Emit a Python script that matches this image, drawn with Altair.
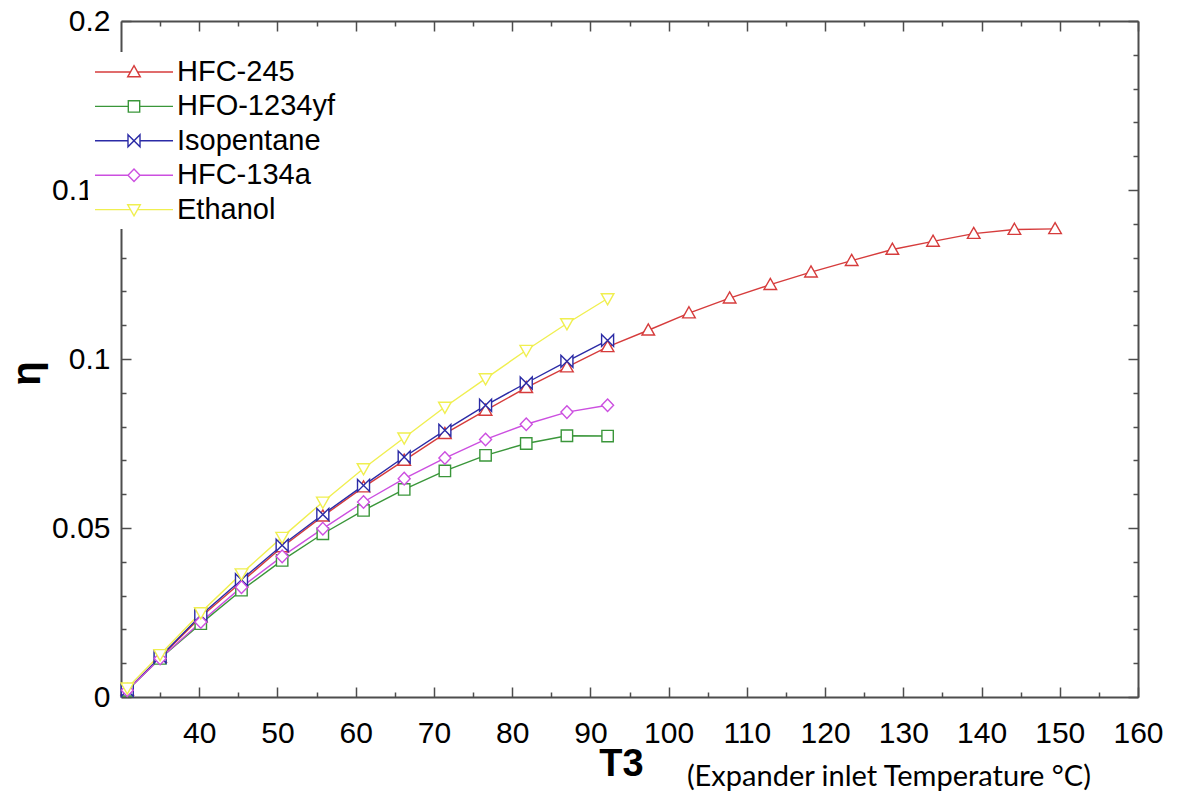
import altair as alt
import pandas as pd

# ---------------- data ----------------
names = ["HFC-245", "HFO-1234yf", "Isopentane", "HFC-134a", "Ethanol"]
colors = ["#d63c3c", "#3a963a", "#2b2ba6", "#cc4fe0", "#f0ef50"]

T_common = [30.8, 35.0, 40.2, 45.4, 50.6, 55.8, 61.0, 66.2, 71.4, 76.6, 81.8, 87.0, 92.2]
T_hfc245 = T_common + [97.4, 102.6, 107.8, 113.0, 118.2, 123.4, 128.6, 133.8, 139.0, 144.2, 149.4]

eta_hfc245 = [0.0020, 0.0117, 0.0237, 0.0340, 0.0444, 0.0535, 0.0621, 0.0700, 0.0779,
              0.0848, 0.0915, 0.0976, 0.1036, 0.1085, 0.1136, 0.1180, 0.1220, 0.1257,
              0.1291, 0.1324, 0.1348, 0.1371, 0.1383, 0.1385]
eta_hfo1234yf = [0.0020, 0.0114, 0.0217, 0.0316, 0.0404, 0.0483, 0.0552, 0.0614, 0.0669,
                 0.0715, 0.0750, 0.0773, 0.0772]
eta_isopentane = [0.0020, 0.0118, 0.0242, 0.0347, 0.0449, 0.0540, 0.0626, 0.0710, 0.0789,
                  0.0863, 0.0929, 0.0993, 0.1055]
eta_hfc134a = [0.0020, 0.0114, 0.0222, 0.0325, 0.0416, 0.0498, 0.0577, 0.0646, 0.0707,
               0.0762, 0.0807, 0.0843, 0.0863]
eta_ethanol = [0.0027, 0.0126, 0.0250, 0.0365, 0.0473, 0.0577, 0.0676, 0.0767, 0.0858,
               0.0942, 0.1026, 0.1105, 0.1179]

x_major = [40, 50, 60, 70, 80, 90, 100, 110, 120, 130, 140, 150, 160]
x_minor = [35, 45, 55, 65, 75, 85, 95, 105, 115, 125, 135, 145, 155]
y_major = [0, 0.05, 0.1, 0.15, 0.2]
y_minor = [0.01, 0.02, 0.03, 0.04, 0.06, 0.07, 0.08, 0.09, 0.11, 0.12, 0.13, 0.14,
           0.16, 0.17, 0.18, 0.19]

note = "(Expander inlet Temperature °C)"

series = [
    (names[0], T_hfc245, eta_hfc245),
    (names[1], T_common, eta_hfo1234yf),
    (names[2], T_common, eta_isopentane),
    (names[3], T_common, eta_hfc134a),
    (names[4], T_common, eta_ethanol),
]
rows = []
for name, ts, es in series:
    for t, e in zip(ts, es):
        rows.append({"series": name, "T": t, "eta": e})
df = pd.DataFrame(rows)

# ---------------- styling ----------------
W, H = 1017, 676
FRAME = "#4d4d4d"
FONT = "Liberation Sans"

# marker shapes on the plot (unit = sqrt(size)/2)
chart_shapes = [
    "M0,-1.05L1.05,0.8L-1.05,0.8Z",          # triangle up
    "M-0.95,-0.95H0.95V0.95H-0.95Z",          # square
    "M-1,-1L1,1V-1L-1,1Z",                    # bowtie
    "M0,-1.05L1,0L0,1.05L-1,0Z",              # diamond
    "M0,1.05L1.05,-0.8L-1.05,-0.8Z",          # triangle down
]
# legend symbols: a line segment with the marker in the middle
legend_shapes = [
    "M-2.6,0H-0.24M0.24,0H2.6M0,-0.42L0.42,0.32L-0.42,0.32Z",
    "M-2.6,0H-0.38M0.38,0H2.6M-0.38,-0.38H0.38V0.38H-0.38Z",
    "M-2.6,0H-0.4M0.4,0H2.6M-0.4,-0.4L0.4,0.4V-0.4L-0.4,0.4Z",
    "M-2.6,0H-0.4M0.4,0H2.6M0,-0.42L0.4,0L0,0.42L-0.4,0Z",
    "M-2.6,0H-0.24M0.24,0H2.6M0,0.42L0.42,-0.32L-0.42,-0.32Z",
]

x_scale = alt.Scale(domain=[30, 160], nice=False, zero=False)
y_scale = alt.Scale(domain=[0, 0.2], nice=False, zero=False)

base = alt.Chart(df)

lines = base.mark_line(strokeWidth=1.4).encode(
    x=alt.X("T:Q", scale=x_scale, axis=alt.Axis(
        orient="bottom", values=x_major, ticks=False, tickSize=0, domain=True,
        domainColor=FRAME, domainWidth=2, grid=False,
        labelFont=FONT, labelFontSize=30, labelColor="black", labelPadding=21,
        labelFlush=False, labelOverlap=False,
        title="T3", titleFont=FONT, titleFontSize=38, titleFontWeight="bold",
        titleColor="black", titleX=500, titleY=78, titleAlign="center",
        titleBaseline="alphabetic")),
    y=alt.Y("eta:Q", scale=y_scale, axis=alt.Axis(
        orient="left", values=y_major, format="~g", ticks=False, tickSize=0,
        domain=True, domainColor=FRAME, domainWidth=2, grid=False,
        labelFont=FONT, labelFontSize=30, labelColor="black", labelPadding=11,
        labelFlush=False, labelOverlap=False, labelBaseline="middle",
        title="η", titleFont=FONT, titleFontSize=40, titleFontWeight="bold",
        titleColor="black", titleX=-94, titleY=352, titleAngle=270,
        titleAlign="center", titleBaseline="middle")),
    color=alt.Color("series:N", scale=alt.Scale(domain=names, range=colors), legend=None),
)

points = base.mark_point(filled=False, fill="white", size=144, strokeWidth=1.4, opacity=1).encode(
    x=alt.X("T:Q", scale=x_scale, axis=None),
    y=alt.Y("eta:Q", scale=y_scale, axis=None),
    color=alt.Color("series:N", scale=alt.Scale(domain=names, range=colors), legend=None),
    shape=alt.Shape("series:N", scale=alt.Scale(domain=names, range=chart_shapes), legend=None),
)

legend_cfg = dict(
    orient="none", legendX=-33, legendY=31, title=None,
    fillColor="white", padding=4, symbolSize=900,
    symbolStrokeWidth=1.4, symbolOffset=26, labelOffset=27,
    symbolFillColor="white", rowPadding=3.4,
    labelFont=FONT, labelFontSize=29, labelColor="black",
    labelLimit=400, zindex=2,
)

legend_layer = base.transform_filter("datum.T < 0").mark_point(
    filled=False, fill="white", size=900, strokeWidth=1.4, opacity=1
).encode(
    x=alt.X("T:Q", scale=x_scale, axis=None),
    y=alt.Y("eta:Q", scale=y_scale, axis=None),
    color=alt.Color("series:N", scale=alt.Scale(domain=names, range=colors),
                    legend=alt.Legend(**legend_cfg)),
    shape=alt.Shape("series:N", scale=alt.Scale(domain=names, range=legend_shapes),
                    legend=alt.Legend(**legend_cfg)),
)

# top / right frame lines
frame = base.mark_point(opacity=0).encode(
    x=alt.X("T:Q", scale=x_scale, axis=alt.Axis(
        orient="top", domain=True, domainColor=FRAME, domainWidth=2, ticks=False,
        tickSize=0, labels=False, title=None, grid=False)),
    y=alt.Y("eta:Q", scale=y_scale, axis=alt.Axis(
        orient="right", domain=True, domainColor=FRAME, domainWidth=2, ticks=False,
        tickSize=0, labels=False, title=None, grid=False)),
)


def x_ticks(orient, vals, size):
    return base.mark_point(opacity=0).encode(
        x=alt.X("T:Q", scale=x_scale, axis=alt.Axis(
            orient=orient, values=vals, tickSize=size, offset=-size, ticks=True,
            tickColor=FRAME, tickWidth=1.5, domain=False, labels=False,
            title=None, grid=False)),
        y=alt.Y("eta:Q", scale=y_scale, axis=None),
    )


def y_ticks(orient, vals, size):
    return base.mark_point(opacity=0).encode(
        x=alt.X("T:Q", scale=x_scale, axis=None),
        y=alt.Y("eta:Q", scale=y_scale, axis=alt.Axis(
            orient=orient, values=vals, tickSize=size, offset=-size, ticks=True,
            tickColor=FRAME, tickWidth=1.5, domain=False, labels=False,
            title=None, grid=False)),
    )


tick_layers = [
    x_ticks("bottom", x_major, 10), x_ticks("bottom", x_minor, 5),
    x_ticks("top", x_major, 10), x_ticks("top", x_minor, 5),
    y_ticks("left", y_major, 10), y_ticks("left", y_minor, 5),
    y_ticks("right", y_major, 10), y_ticks("right", y_minor, 5),
]

note_layer = alt.Chart(pd.DataFrame({"t": [note]})).mark_text(
    align="right", baseline="alphabetic", font="Lato", fontSize=29, color="black"
).encode(x=alt.value(970), y=alt.value(765), text="t:N")

chart = alt.layer(
    frame, *tick_layers, lines, points, legend_layer, note_layer
).resolve_scale(
    color="independent", shape="independent"
).resolve_axis(
    x="independent", y="independent"
).properties(
    width=W, height=H,
    autosize=alt.AutoSizeParams(type="none"),
    padding={"left": 121, "top": 21, "right": 41, "bottom": 100},
    background="white",
).configure_view(stroke=None)

chart.save("out.html", embed_options={"renderer": "svg", "actions": False})
